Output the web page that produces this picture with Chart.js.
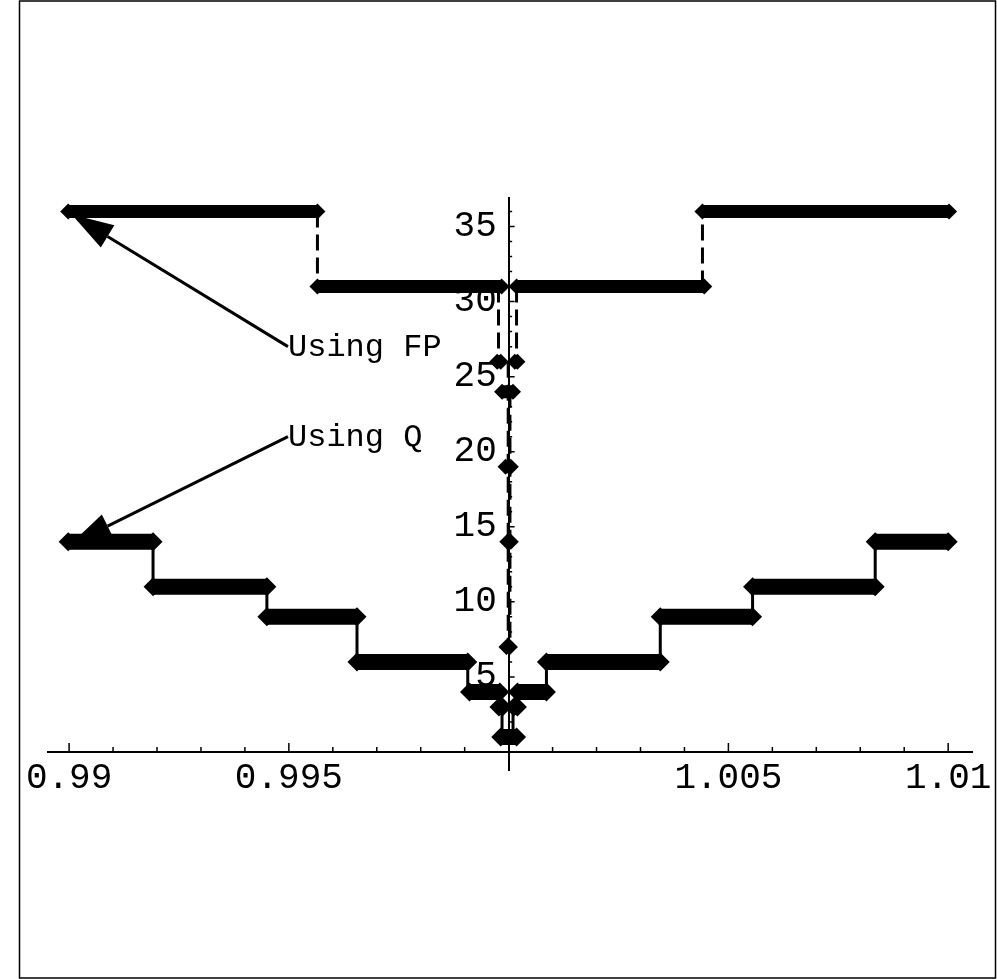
<!DOCTYPE html>
<html>
<head>
<meta charset="utf-8">
<script src="https://cdn.jsdelivr.net/npm/chart.js@4/dist/chart.umd.min.js"></script>
<style>
  html, body { margin: 0; padding: 0; background: #fff; }
</style>
</head>
<body>
<canvas id="chart" width="997" height="979"></canvas>
<script>
// "Using FP" steps: each level runs from start to end
const fpStart = [0.98998, 0.99565, 0.99974, 1.00014, 0.99985, 0.99993, 0.99997, 0.99995, 1.00018, 1.00441];
const fpEnd   = [0.99565, 0.99984, 0.99982, 1.00020, 1.00010, 1.00005, 1.00005, 1.00003, 1.00445, 1.01002];
const fpValue = [36, 31, 26, 26, 24, 19, 14, 7, 31, 36];

// dashed jumps of the FP curve
const fpJumpX    = [0.99565, 0.99977, 1.00018, 0.99999, 1.00003, 1.00441];
const fpJumpFrom = [36, 31, 31, 26, 24, 31];
const fpJumpTo   = [31, 26, 26, 7, 7, 36];

// "Using Q" steps
const qStart = [0.98998, 0.99191, 0.99450, 0.99655, 0.99911, 0.99978, 0.99982, 1.00012, 1.00020, 1.00086, 1.00345, 1.00555, 1.00834];
const qEnd   = [0.99191, 0.99450, 0.99655, 0.99907, 0.99980, 0.99986, 1.00018, 1.00020, 1.00086, 1.00345, 1.00555, 1.00834, 1.01000];
const qValue = [14, 11, 9, 6, 4, 3, 1, 3, 4, 6, 9, 11, 14];

// solid jumps of the Q curve
const qJumpX    = [0.99191, 0.99450, 0.99655, 0.99907, 0.99985, 1.00010, 1.00086, 1.00345, 1.00555, 1.00834];
const qJumpFrom = [14, 11, 9, 6, 3, 3, 4, 6, 9, 11];
const qJumpTo   = [11, 9, 6, 4, 1, 1, 6, 9, 11, 14];

const xTicks = [0.99, 0.995, 1.005, 1.01];
const xTickLabels = ['0.99', '0.995', '1.005', '1.01'];
const yTicks = [5, 10, 15, 20, 25, 30, 35];
const yTickLabels = ['5', '10', '15', '20', '25', '30', '35'];

// labels with arrows, in data units
const notes = [
  { text: 'Using FP', x: 0.99498, y: 26.35, fromY: 27.0, tipX: 0.99006, tipY: 35.8 },
  { text: 'Using Q',  x: 0.99498, y: 20.35, fromY: 21.0, tipX: 0.99002, tipY: 13.8 }
];

const FONT = '"Liberation Mono", "DejaVu Sans Mono", monospace';
const Y_MIN = -1.2, Y_MAX = 36.9;

function steps(starts, ends, values) {
  const pts = [];
  starts.forEach((s, i) => {
    pts.push({ x: s, y: values[i] }, { x: ends[i], y: values[i] }, { x: ends[i], y: null });
  });
  return pts;
}

function jumps(xs, from, to) {
  const pts = [];
  xs.forEach((x, i) => {
    pts.push({ x: x, y: from[i] }, { x: x, y: to[i] }, { x: x, y: null });
  });
  return pts;
}

const extras = {
  id: 'extras',
  beforeDraw(chart) {
    const ctx = chart.ctx;
    ctx.save();
    ctx.strokeStyle = '#000';
    ctx.lineWidth = 1.5;
    ctx.strokeRect(19.5, 1, 976, 977);
    ctx.restore();
  },
  afterDraw(chart) {
    const { ctx, scales: { x, y } } = chart;
    const ax = x.getPixelForValue(1);
    const ay = y.getPixelForValue(0);
    ctx.save();
    ctx.strokeStyle = '#000';
    ctx.fillStyle = '#000';
    ctx.lineWidth = 1.5;

    // tick marks on the inner side of the axes
    ctx.beginPath();
    for (let i = 0; i <= 20; i++) {
      if (i === 10) continue;
      const px = x.getPixelForValue(0.99 + i * 0.001);
      const len = i % 5 === 0 ? 9 : 5;
      ctx.moveTo(px, ay);
      ctx.lineTo(px, ay - len);
    }
    for (let v = 1; v <= 36; v++) {
      const py = y.getPixelForValue(v);
      const len = v % 5 === 0 ? 6 : 3.5;
      ctx.moveTo(ax, py);
      ctx.lineTo(ax + len, py);
    }
    ctx.stroke();

    // annotations
    ctx.font = '32px ' + FONT;
    ctx.textAlign = 'left';
    ctx.textBaseline = 'alphabetic';
    notes.forEach(n => {
      const tx = x.getPixelForValue(n.x);
      ctx.fillText(n.text, tx, y.getPixelForValue(n.y));
      const sx = tx, sy = y.getPixelForValue(n.fromY);
      const ex = x.getPixelForValue(n.tipX), ey = y.getPixelForValue(n.tipY);
      const ang = Math.atan2(sy - ey, sx - ex);
      const headLen = 42, headW = 13;
      const bx = ex + Math.cos(ang) * headLen, by = ey + Math.sin(ang) * headLen;
      ctx.lineWidth = 3;
      ctx.beginPath();
      ctx.moveTo(sx, sy);
      ctx.lineTo(bx, by);
      ctx.stroke();
      ctx.beginPath();
      ctx.moveTo(ex, ey);
      ctx.lineTo(bx - Math.sin(ang) * headW, by + Math.cos(ang) * headW);
      ctx.lineTo(bx + Math.sin(ang) * headW, by - Math.cos(ang) * headW);
      ctx.closePath();
      ctx.fill();
    });
    ctx.restore();
  }
};

new Chart(document.getElementById('chart'), {
  type: 'scatter',
  data: {
    datasets: [
      {
        data: jumps(fpJumpX, fpJumpFrom, fpJumpTo),
        showLine: true, borderColor: '#000', borderWidth: 3, borderDash: [16, 7],
        pointRadius: 0, spanGaps: false
      },
      {
        data: jumps(qJumpX, qJumpFrom, qJumpTo),
        showLine: true, borderColor: '#000', borderWidth: 3,
        pointRadius: 0, spanGaps: false
      },
      {
        data: steps(fpStart, fpEnd, fpValue),
        showLine: true, borderColor: '#000', borderWidth: 13, borderCapStyle: 'butt',
        pointStyle: 'rectRot', pointRadius: 8, pointBorderWidth: 0,
        pointBackgroundColor: '#000', spanGaps: false
      },
      {
        data: steps(qStart, qEnd, qValue),
        showLine: true, borderColor: '#000', borderWidth: 16, borderCapStyle: 'butt',
        pointStyle: 'rectRot', pointRadius: 9.5, pointBorderWidth: 0,
        pointBackgroundColor: '#000', spanGaps: false
      }
    ]
  },
  options: {
    responsive: false,
    animation: false,
    devicePixelRatio: 1,
    layout: { padding: { left: 48, right: 24, top: 198, bottom: 209 } },
    plugins: { legend: { display: false }, tooltip: { enabled: false } },
    scales: {
      x: {
        type: 'linear', min: 0.98952, max: 1.01055,
        position: { y: 0 },
        grid: { display: false, drawTicks: false },
        border: { display: true, color: '#000', width: 2 },
        afterBuildTicks: s => { s.ticks = xTicks.map(v => ({ value: v })); },
        ticks: {
          color: '#000', padding: 5, maxRotation: 0, autoSkip: false,
          font: { family: FONT, size: 36 },
          callback: (v, i) => xTickLabels[i]
        }
      },
      // the y axis line itself, crossing at x = 1
      y: {
        type: 'linear', min: Y_MIN, max: Y_MAX,
        position: { x: 1 },
        grid: { display: false, drawTicks: false },
        border: { display: true, color: '#000', width: 2 },
        ticks: { display: false }
      },
      // its labels, set a little to the left of the line
      yLabels: {
        type: 'linear', min: Y_MIN, max: Y_MAX,
        position: { x: 0.99973 },
        grid: { display: false, drawTicks: false },
        border: { display: false },
        afterBuildTicks: s => { s.ticks = yTicks.map(v => ({ value: v })); },
        ticks: {
          color: '#000', padding: 0, autoSkip: false,
          font: { family: FONT, size: 36 },
          callback: (v, i) => yTickLabels[i]
        }
      }
    }
  },
  plugins: [extras]
});
</script>
</body>
</html>
